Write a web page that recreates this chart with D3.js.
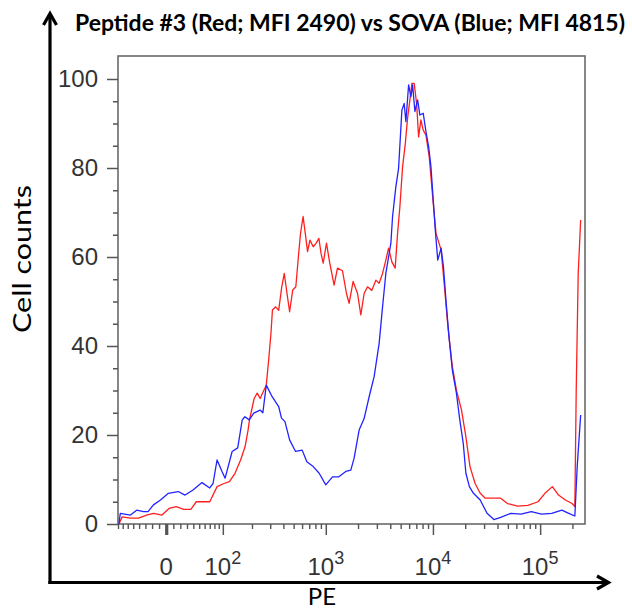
<!DOCTYPE html>
<html><head><meta charset="utf-8">
<script src="https://cdn.jsdelivr.net/npm/d3@7"></script>
<style>body{margin:0;background:#fff}svg{display:block}</style>
</head><body>
<svg id="c" width="632" height="609"></svg>
<script>
// ---- data (PE fluorescence value, cell count) ----
const bluePE = [-78,-75,-55,-44,-33,-26,-18,-8,3,17,27,39,55,70,77,86,98,106,126,144,160,170,188,208,240,255,275,313,361,384,414,458,521,601,665,763,867,1000,1155,1323,1538,1713,1839,2048,2280,2540,2828,3149,3388,3637,4051,4202,4511,4780,4949,5133,5393,5594,5930,6229,6461,6788,7194,7558,8117,8603,9116,9580,10066,10517,11086,11918,12535,13301,14110,15169,16558,17806,19182,20300,21878,23884,27605,31975,37040,42800,53300,66360,82640,102900,128100,159500,184800,210800,221700,238800];
const blueCount = [0,2.4,2.0,3.1,2.8,2.8,4.3,5.4,6.9,7.3,6.5,7.6,9.3,8.1,9.1,14.4,11.8,10.3,16.3,17.1,23.4,24.1,23.4,24.9,25.6,25.0,31.2,28.6,26.4,23.8,23.0,18.9,16.3,16.6,14.0,12.9,11.4,8.8,10.6,10.6,11.8,12.1,14.8,21.1,23.7,28.6,33.1,40.6,48.8,56.3,63.1,69.1,75.8,79.9,86.3,93.0,94.5,90.4,98.7,96.0,98.7,92.7,95.3,91.9,92.3,88.2,84.8,80.3,72.8,66.1,59.3,62.0,57.8,49.6,42.1,34.6,29.4,23.4,18.1,11.4,8.4,6.9,5.4,2.4,1.0,1.5,2.4,2.2,2.8,2.2,2.4,3.1,2.4,1.8,12.9,24.5];
const redPE = [-78,-71,-55,-41,-28,-18,-6,4,14,25,36,45,57,70,86,103,118,135,154,171,183,189,210,225,240,257,275,290,305,315,338,361,386,408,428,458,490,524,554,580,613,643,675,711,763,807,862,903,946,1015,1090,1196,1286,1432,1561,1651,1800,1979,2124,2280,2453,2691,2934,3149,3388,3637,3855,4139,4443,4679,4917,5210,5510,5802,6096,6364,6686,7041,7351,7723,8117,8603,9235,10066,10680,11918,12810,13800,15169,16558,18480,20300,22170,24740,27605,30800,36470,42800,49580,61730,76860,95700,110800,130100,148400,171900,198700,210800,216900,226600,238800];
const redCount = [0,1.6,1.3,1.3,2.0,2.4,2.0,3.5,3.9,3.3,3.3,5.0,5.0,5.0,8.4,9.1,9.5,11.4,14.4,17.4,21.1,23.4,28.2,29.4,28.2,29.7,31.2,36.9,42.9,48.1,48.8,48.0,53.3,56.3,52.6,47.7,52.6,53.3,60.1,65.3,69.1,65.3,61.2,63.8,62.3,63.0,64.2,60.8,58.6,63.1,58.6,53.7,57.5,56.9,51.8,49.6,54.5,51.8,47.0,51.8,53.3,52.5,54.8,54.1,56.3,59.3,62.0,58.9,57.5,65.3,71.3,80.3,85.2,91.2,95.3,99.0,99.0,94.5,87.0,90.8,88.5,87.4,82.5,72.1,65.3,61.6,53.3,44.3,35.4,30.1,25.6,19.6,12.9,9.1,6.9,5.8,5.8,5.8,4.6,4.0,4.2,5.0,6.9,8.4,6.5,5.4,4.6,3.9,29.4,56.3,68.3];
const yTickValues = [0,20,40,60,80,100];
const xTickValues = [0,100,1000,10000,100000];
const xTickBase = ["0","10","10","10","10"];
const xTickExp = ["","2","3","4","5"];
const titleText = "Peptide #3 (Red; MFI 2490) vs SOVA (Blue; MFI 4815)";
const xTitle = "PE";
const yTitle = "Cell counts";
const xDomain = [-80, 262144];

// ---- layout ----
const L = 118, R = 585, T = 56, B = 524;
const svg = d3.select("#c");
svg.append("rect").attr("width",632).attr("height",609).attr("fill","#fff");

// biexponential-like transform (arcsinh) feeding a linear scale
const W = 65;
const tf = v => Math.asinh(v / W);
const xLin = d3.scaleLinear().domain(xDomain.map(tf)).range([L, R]);
const x = v => xLin(tf(v));
const y = d3.scaleLinear().domain([0, 100]).range([B, 79]);

// frame
svg.append("rect").attr("x",L).attr("y",T).attr("width",R-L).attr("height",B-T)
  .attr("fill","none").attr("stroke","#6a6a6a").attr("stroke-width",1.6);

// curves
const line = d3.line().x(d => x(d[0])).y(d => y(d[1]));
const redData = redPE.map((v,i) => [v, redCount[i]]);
const blueData = bluePE.map((v,i) => [v, blueCount[i]]);
svg.append("path").datum(redData).attr("d", line).attr("fill","none")
  .attr("stroke","#ff1f1f").attr("stroke-width",1.3).attr("stroke-linejoin","round");
svg.append("path").datum(blueData).attr("d", line).attr("fill","none")
  .attr("stroke","#2323ff").attr("stroke-width",1.3).attr("stroke-linejoin","round");

// y axis
const yAx = svg.append("g").attr("transform",`translate(${L},0)`)
  .call(d3.axisLeft(y).tickValues(yTickValues).tickSize(11).tickPadding(9).tickFormat(d3.format("d")));
yAx.select(".domain").remove();
yAx.selectAll(".tick line").attr("stroke","#555").attr("stroke-width",1.5);
yAx.selectAll(".tick text").attr("fill","#333").style("font-family","'Liberation Sans', Arial, sans-serif").style("font-size","24px");
const yMinor = d3.range(5, 100, 5).filter(v => v % 20 !== 0);
const yAxMin = svg.append("g").attr("transform",`translate(${L},0)`)
  .call(d3.axisLeft(y).tickValues(yMinor).tickSize(5).tickFormat(""));
yAxMin.select(".domain").remove();
yAxMin.selectAll(".tick line").attr("stroke","#555").attr("stroke-width",1.5);

// x axis
const xMinorVals = [];
for (let k = 10; k < 100; k += 10) { xMinorVals.push(k); if (-k >= xDomain[0]) xMinorVals.push(-k); }
for (let e = 2; e <= 4; e++) for (let m = 2; m <= 9; m++) xMinorVals.push(m * Math.pow(10, e));
xMinorVals.push(200000);
const xAx = svg.append("g").attr("transform",`translate(0,${B})`)
  .call(d3.axisBottom(xLin).tickValues(xTickValues.map(tf)).tickSize(11).tickFormat(""));
xAx.select(".domain").remove();
xAx.selectAll(".tick line").attr("stroke","#555").attr("stroke-width",(d,i) => i === 0 ? 3.2 : 1.5);
const xAxMin = svg.append("g").attr("transform",`translate(0,${B})`)
  .call(d3.axisBottom(xLin).tickValues(xMinorVals.map(tf)).tickSize(5).tickFormat(""));
xAxMin.select(".domain").remove();
xAxMin.selectAll(".tick line").attr("stroke","#555").attr("stroke-width",1.4);

const xl = svg.append("g").selectAll("text").data(xTickValues).join("text")
  .attr("x", d => x(d)).attr("y", 575).attr("text-anchor","middle")
  .attr("fill","#333").style("font-family","'Liberation Sans', Arial, sans-serif").style("font-size","24px");
xl.append("tspan").text((d,i) => xTickBase[i]);
xl.append("tspan").attr("dy", -11).style("font-size","18px").text((d,i) => xTickExp[i]);

// arrows
const ar = svg.append("g").attr("stroke","#000").attr("stroke-width",3.2).attr("fill","none")
  .attr("stroke-linecap","butt");
ar.append("path").attr("d","M50,584 L50,14");
ar.append("path").attr("d","M43.5,25 L50,13.5 L56.5,25");
ar.append("path").attr("d","M48.4,582.5 L608,582.5");
ar.append("path").attr("d","M597,576 L608.5,582.5 L597,589");

// titles
svg.append("text").attr("x",75).attr("y",31).text(titleText)
  .attr("textLength",550).attr("lengthAdjust","spacingAndGlyphs")
  .style("font-family","Lato, 'Open Sans', sans-serif").style("font-weight","700").style("font-size","22px").attr("fill","#000");
svg.append("text").attr("x",322).attr("y",605).attr("text-anchor","middle").text(xTitle)
  .style("font-family","Lato, 'Open Sans', sans-serif").style("font-size","24px").attr("fill","#000");
svg.append("text").attr("transform","translate(31,259) rotate(-90)").attr("text-anchor","middle").text(yTitle)
  .attr("textLength",148).attr("lengthAdjust","spacingAndGlyphs")
  .style("font-family","Lato, 'Open Sans', sans-serif").style("font-size","25px").attr("fill","#000");
</script>
</body></html>
